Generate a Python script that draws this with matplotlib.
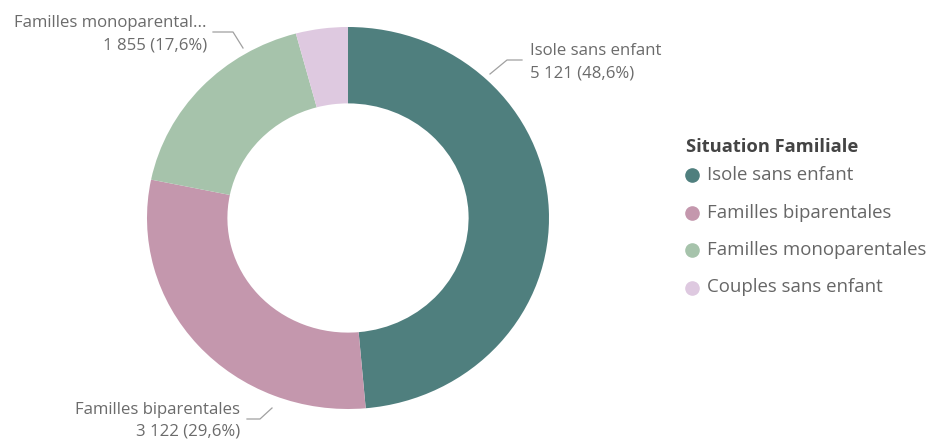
import matplotlib.pyplot as plt
import numpy as np
from matplotlib.lines import Line2D

categories = ['Isole sans enfant', 'Familles biparentales', 'Familles monoparentales', 'Couples sans enfant']
values = [5121, 3122, 1855, 440]
shares = ['48,6%', '29,6%', '17,6%', '4,2%']
colors = ['#4f7f7e', '#c497ad', '#a6c3ab', '#dec9e0']

plt.rcParams['font.family'] = ['Open Sans', 'DejaVu Sans']
W, H = 931, 443
fig = plt.figure(figsize=(W / 100, H / 100), dpi=100)

# donut centre and radii in pixels (slightly wider than tall, like the source)
cx, cy, rx, ry = 348, 218, 201, 191
ax = fig.add_axes([(cx - rx) / W, (H - cy - ry) / H, 2 * rx / W, 2 * ry / H])
ax.pie(values, colors=colors, startangle=90, counterclock=False,
       wedgeprops=dict(width=0.4, edgecolor='none'))
ax.set_aspect('auto')
ax.set_xlim(-1, 1)
ax.set_ylim(-1, 1)
ax.axis('off')


def px(x, y):
    # pixel position -> data coords of the donut axes
    return (x - cx) / rx, (cy - y) / ry


txt_col = '#6b6b6b'
line_col = '#a0a0a0'
fs = 12.1

# leader lines (pixel paths) and label anchors
leaders = [
    [(490, 74), (507, 60), (522, 60)],
    [(272, 408), (260, 419), (247, 419)],
    [(243, 48), (233, 32), (213, 32)],
]
anchors = [(530, 51, 'left'), (240, 410, 'right'), (207, 23, 'right')]
shown = ['Isole sans enfant', 'Familles biparentales', 'Familles monoparental...']
for i in range(3):
    pts = np.array([px(*p) for p in leaders[i]])
    ax.plot(pts[:, 0], pts[:, 1], color=line_col, lw=0.9, clip_on=False)
    x0, y0, ha = anchors[i]
    num = f'{values[i]:,}'.replace(',', ' ')
    ax.text(*px(x0, y0), shown[i], ha=ha, va='center', fontsize=fs, color=txt_col, clip_on=False)
    ax.text(*px(x0, y0 + 22), f'{num} ({shares[i]})', ha=ha, va='center', fontsize=fs,
            color=txt_col, clip_on=False)

# legend, laid out by hand
fig.text(686 / W, 1 - 147 / H, 'Situation Familiale', fontsize=13.2, fontweight='bold',
         color='#444444', va='center', ha='left')
for i, (lab, c) in enumerate(zip(categories, colors)):
    yy = 1 - (175 + 37.5 * i) / H
    fig.add_artist(Line2D([692 / W], [yy], marker='o', ls='none', color=c, markersize=9.5,
                          transform=fig.transFigure))
    fig.text(707 / W, yy, lab, fontsize=13.4, color='#666666', va='center', ha='left')

fig.savefig('out.png', dpi=100, facecolor='white')
